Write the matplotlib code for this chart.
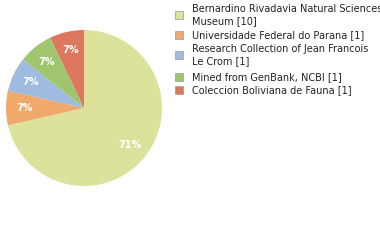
import matplotlib
matplotlib.use("Agg")
import matplotlib.pyplot as plt
from matplotlib.patches import Rectangle

labels = ["Bernardino Rivadavia Natural Sciences\nMuseum [10]",
          "Universidade Federal do Parana [1]",
          "Research Collection of Jean Francois\nLe Crom [1]",
          "Mined from GenBank, NCBI [1]",
          "Coleccion Boliviana de Fauna [1]"]
counts = [10, 1, 1, 1, 1]
colors = ["#dce29c", "#f0a96c", "#9fbbe0", "#9fc66f", "#dd775e"]

W, H = 380, 240
fig = plt.figure(figsize=(W / 100, H / 100), dpi=100)

# pie: centre (84,108) px, radius 78 px
cx, cy, r = 84, 108, 78
ax = fig.add_axes([(cx - r) / W, (H - cy - r) / H, 2 * r / W, 2 * r / H])
ax.pie(counts, colors=colors, startangle=90, counterclock=False,
       autopct="%d%%", pctdistance=0.76,
       textprops=dict(color="white", fontsize=7, fontweight="bold"),
       wedgeprops=dict(linewidth=0))
ax.set_xlim(-1, 1)
ax.set_ylim(-1, 1)
ax.set_aspect("equal")

# legend drawn by hand
ys = [15, 35, 55, 77, 90]
for lab, col, y in zip(labels, colors, ys):
    fig.patches.append(Rectangle(((175) / W, (H - y - 4) / H), 8 / W, 8 / H,
                                 transform=fig.transFigure, facecolor=col,
                                 edgecolor="#999999", linewidth=0.5))
    fig.text(192 / W, (H - y) / H, lab, fontsize=7, va="center", ha="left",
             color="#222222", linespacing=1.15)

fig.savefig("out.png", dpi=100)
